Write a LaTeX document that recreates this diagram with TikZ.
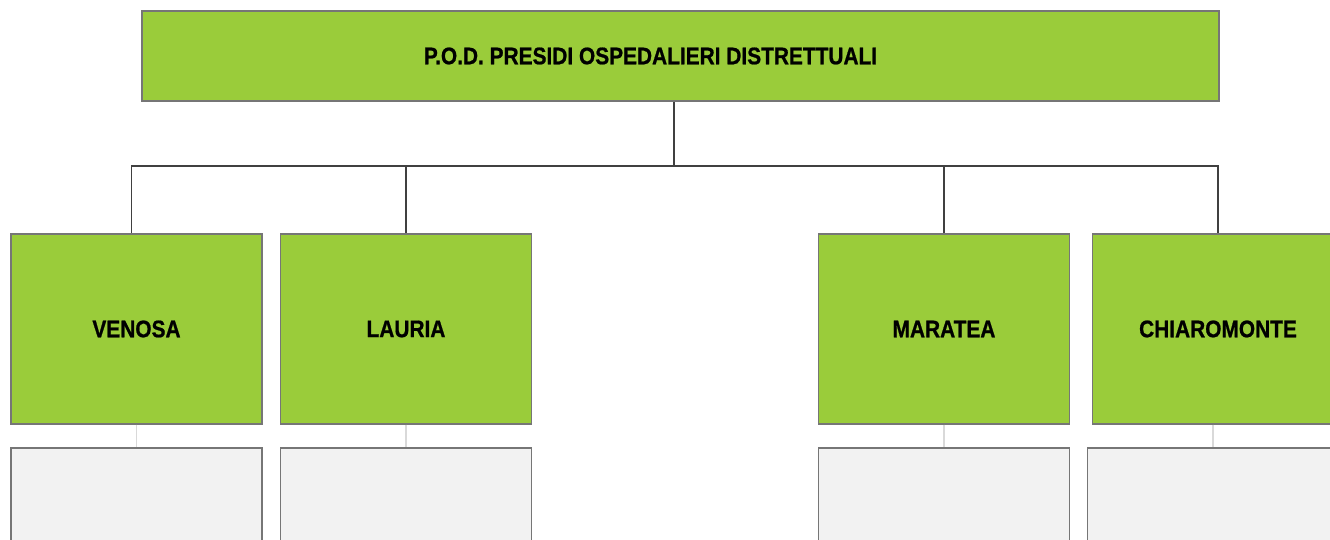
\documentclass[tikz,border=0pt]{standalone}
\usepackage{fontspec}
\usepackage{xcolor}
\usepackage{tikz}
\usetikzlibrary{positioning, calc}
\newfontfamily\condfont{Liberation Sans}[FakeStretch=0.87, FakeBold=0.8]
\definecolor{leafgreen}{RGB}{154, 204, 58}
\definecolor{boxgray}{RGB}{242, 242, 242}
\definecolor{edgegray}{RGB}{118, 118, 118}
\definecolor{linkgray}{RGB}{64, 64, 64}
\definecolor{faintgray}{RGB}{217, 217, 217}

\begin{document}
\begin{tikzpicture}[
    x=1pt, y=-1pt,
    green_box/.style={draw=edgegray, line width=1.2pt, fill=leafgreen, minimum width=251pt, minimum height=190pt, inner sep=0pt, font=\condfont\bfseries\fontsize{24}{28}\selectfont, align=center},
    gray_box/.style={draw=edgegray, line width=1.2pt, fill=boxgray, minimum width=251pt, minimum height=190pt, inner sep=0pt},
    link/.style={linkgray, line width=1.2pt},
    light_link/.style={faintgray, line width=1.5pt}
]
    \useasboundingbox (0,0) rectangle (1330,540);

    % Top node
    \node[green_box, minimum width=1077pt, minimum height=90pt] (pod) at (680.5,56) {\hspace*{-60pt}P.O.D. PRESIDI OSPEDALIERI DISTRETTUALI};

    % District nodes
    \node[green_box] (venosa) at (136.5,329) {VENOSA};
    \node[green_box] (lauria) at (406,329) {LAURIA};
    \node[green_box] (maratea) at (944,329) {MARATEA};
    \node[green_box] (chiaro) at (1218,329) {CHIAROMONTE};

    % Empty boxes below
    \node[gray_box] (venosa_sub) at (136.5,543) {};
    \node[gray_box] (lauria_sub) at (406,543) {};
    \node[gray_box] (maratea_sub) at (944,543) {};
    \node[gray_box] (chiaro_sub) at (1213,543) {};

    % Connectors
    \coordinate (bus) at (674,166);
    \draw[link] (pod.south -| bus) -- (bus);
    \draw[link] (bus) -| ([xshift=-5pt]venosa.north);
    \draw[link] (bus) -| (lauria.north);
    \draw[link] (bus) -| (maratea.north);
    \draw[link] (bus) -| (chiaro.north);

    \draw[light_link] (venosa.south) -- (venosa_sub.north);
    \draw[light_link] (lauria.south) -- (lauria_sub.north);
    \draw[light_link] (maratea.south) -- (maratea_sub.north);
    \draw[light_link] (chiaro.south -| chiaro_sub.north) -- (chiaro_sub.north);
\end{tikzpicture}
\end{document}
